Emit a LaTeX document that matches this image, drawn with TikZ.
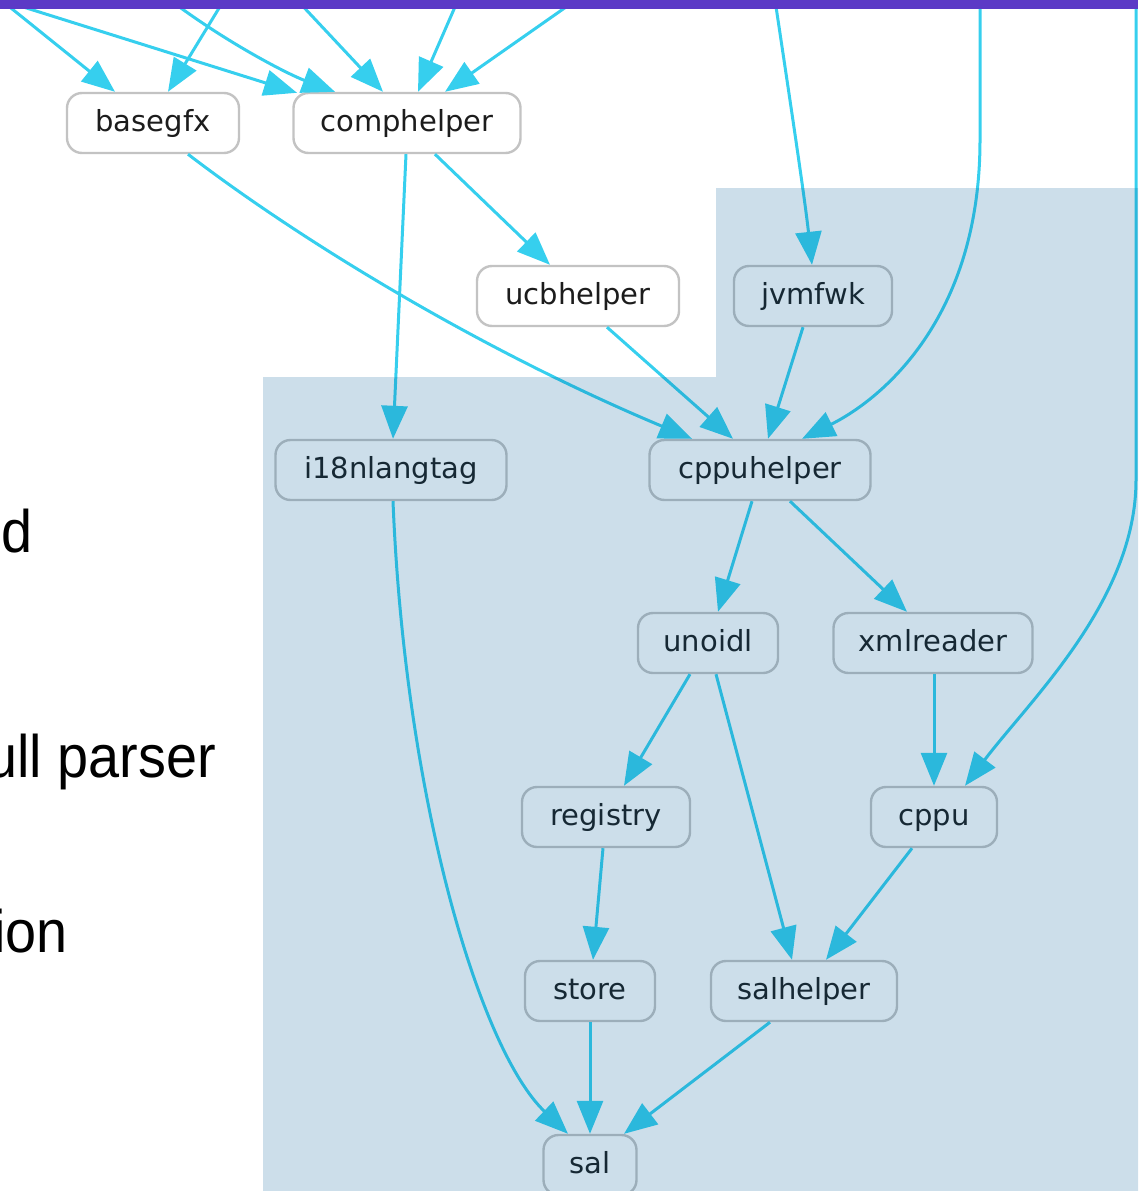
\documentclass[tikz,border=0pt]{standalone}
\usepackage{fontspec}
\usetikzlibrary{arrows.meta,calc}
\newfontfamily\nodefont{DejaVu Sans}
\newfontfamily\sidefont{Liberation Sans}[FakeStretch=0.93]
\definecolor{edgecol}{RGB}{54,207,238}
\definecolor{nodeborder}{RGB}{195,195,195}
\definecolor{nodetext}{RGB}{28,28,28}
\definecolor{bandcol}{RGB}{92,58,198}
\definecolor{clustercol}{RGB}{0,92,150}
\begin{document}
\begin{tikzpicture}[x=1pt,y=-1pt,
  dep/.style={draw=edgecol, line width=3pt, -{Triangle[length=33pt,width=26pt]}},
  pkg/.style={draw=nodeborder, line width=2.4pt, fill=white, rounded corners=15pt,
    minimum height=60pt, inner xsep=6pt, inner ysep=0pt,
    text height=22pt, text depth=5pt, text=nodetext,
    font={\nodefont\fontsize{29pt}{34pt}\selectfont}},
  sidetext/.style={anchor=base east, inner sep=0pt, text=black,
    font={\sidefont\fontsize{60pt}{70pt}\selectfont}}]
\useasboundingbox (0,0) rectangle (1138,1191);
\clip (0,0) rectangle (1138,1191);

% loose ends of the dependencies coming from above
\coordinate (t1) at (1,0);
\coordinate (t2) at (224,0);
\coordinate (t3) at (170,0);
\coordinate (t4) at (297,0);
\coordinate (t5) at (458,0);
\coordinate (t6) at (576,0);
\coordinate (t7) at (775,0);
\coordinate (t8) at (980,0);
\coordinate (t9) at (1136,0);

% module nodes
\node[pkg, minimum width=172pt] (basegfx)     at (153,123)  {basegfx};
\node[pkg, minimum width=227pt] (comphelper)  at (407,123)  {comphelper};
\node[pkg, minimum width=202pt] (ucbhelper)   at (578,296)  {ucbhelper};
\node[pkg, minimum width=158pt] (jvmfwk)      at (813,296)  {jvmfwk};
\node[pkg, minimum width=231pt] (i18nlangtag) at (391,470)  {i18nlangtag};
\node[pkg, minimum width=221pt] (cppuhelper)  at (760,470)  {cppuhelper};
\node[pkg, minimum width=140pt] (unoidl)      at (708,643)  {unoidl};
\node[pkg, minimum width=199pt] (xmlreader)   at (933,643)  {xmlreader};
\node[pkg, minimum width=168pt] (registry)    at (606,817)  {registry};
\node[pkg, minimum width=126pt] (cppu)        at (934,817)  {cppu};
\node[pkg, minimum width=130pt] (store)       at (590,991)  {store};
\node[pkg, minimum width=186pt] (salhelper)   at (804,991)  {salhelper};
\node[pkg, minimum width=93pt]  (sal)         at (590,1165) {sal};

% incoming dependencies
\draw[dep] (t1) -- ([xshift=-38pt]basegfx.north);
\draw[dep] (t2) -- ([xshift=15pt]basegfx.north);
\draw[dep] (t1) -- ([xshift=-110pt,yshift=-1pt]comphelper.north);
\draw[dep] (t3) .. controls (230,45) and (290,75) .. ([xshift=-72pt]comphelper.north);
\draw[dep] (t4) -- ([xshift=-24pt]comphelper.north);
\draw[dep] (t5) -- ([xshift=11pt]comphelper.north);
\draw[dep] (t6) -- ([xshift=38pt]comphelper.north);
\draw[dep] (t7) .. controls (790,100) and (805,200) .. ([xshift=-1pt]jvmfwk.north);
\draw[dep] (t8) -- (980,140) .. controls (980,320) and (880,400) .. ([xshift=42pt]cppuhelper.north);
\draw[dep] (t9) -- (1136,480) .. controls (1136,600) and (1030,700) .. ([xshift=31pt]cppu.north);

% internal dependencies
\draw[dep] ([xshift=35pt]basegfx.south) .. controls (300,240) and (480,350) .. ([xshift=-68pt]cppuhelper.north);
\draw[dep] ([xshift=-1pt]comphelper.south) -- ([xshift=2pt]i18nlangtag.north);
\draw[dep] ([xshift=28pt]comphelper.south) -- ([xshift=-28pt]ucbhelper.north);
\draw[dep] ([xshift=29pt]ucbhelper.south) -- ([xshift=-27pt]cppuhelper.north);
\draw[dep] ([xshift=-10pt]jvmfwk.south) -- ([xshift=8pt]cppuhelper.north);
\draw[dep] ([xshift=-8pt]cppuhelper.south) -- ([xshift=10pt]unoidl.north);
\draw[dep] ([xshift=30pt]cppuhelper.south) -- ([xshift=-26pt]xmlreader.north);
\draw[dep] ([xshift=-18pt]unoidl.south) -- ([xshift=18pt]registry.north);
\draw[dep] ([xshift=8pt]unoidl.south) -- ([xshift=-12pt]salhelper.north);
\draw[dep] ([xshift=1pt]xmlreader.south) -- (cppu.north);
\draw[dep] ([xshift=-3pt]registry.south) -- ([xshift=3pt]store.north);
\draw[dep] ([xshift=-22pt]cppu.south) -- ([xshift=22pt]salhelper.north);
\draw[dep] (store.south) -- (sal.north);
\draw[dep] ([xshift=-34pt]salhelper.south) -- ([xshift=34pt]sal.north);
\draw[dep] ([xshift=2pt]i18nlangtag.south) .. controls (405,800) and (480,1050) .. ([xshift=-22pt]sal.north);

% shaded cluster over the URE modules
\fill[clustercol, fill opacity=0.2]
  (263,1191) -- (263,377) -- (716,377) -- (716,188) -- (1138,188) -- (1138,1191) -- cycle;

% band along the top
\fill[bandcol] (0,0) rectangle (1138,8.5);

% text running in from the left
\node[sidetext] (w1) at (33,552) {nd};
\node[sidetext] (w2) at (216,777) {ull parser};
\node[sidetext] (w3) at (68,952) {ion};
\end{tikzpicture}
\end{document}
